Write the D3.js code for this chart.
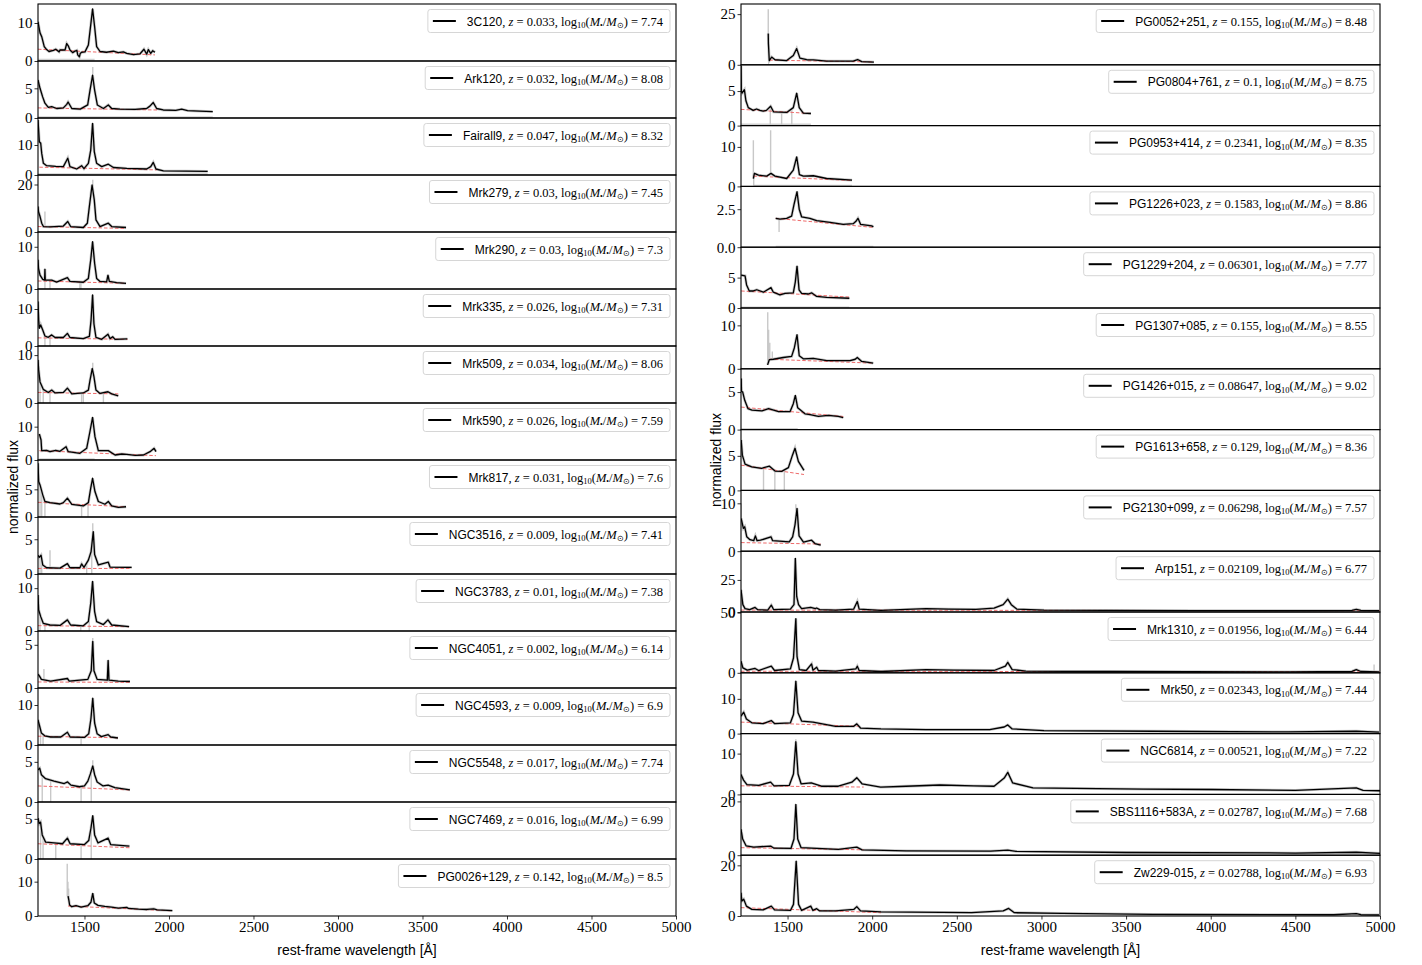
<!DOCTYPE html>
<html>
<head>
<meta charset="utf-8">
<script src="https://cdn.jsdelivr.net/npm/d3@7"></script>
<style>
body { margin: 0; background: #fff; }
.axis text { font-family: 'Liberation Serif', serif; font-size: 15px; fill: #000; }
.axis path { display: none; }
.axis line { stroke: #000; stroke-width: 0.8; }
.title { font-family: 'Liberation Sans', sans-serif; font-size: 14px; fill: #000; }
</style>
</head>
<body>
<div id="vis"></div>
<script>
/* *************************** Data ***************************** */

// wavelength range shared by every panel
var xDomain = [1225, 5000];
var xTicks = [1500, 2000, 2500, 3000, 3500, 4000, 4500, 5000];

// left column
var leftNames = ['3C120', 'Ark120', 'Fairall9', 'Mrk279', 'Mrk290', 'Mrk335', 'Mrk509', 'Mrk590',
    'Mrk817', 'NGC3516', 'NGC3783', 'NGC4051', 'NGC4593', 'NGC5548', 'NGC7469', 'PG0026+129'];
var leftZ = ['0.033', '0.032', '0.047', '0.03', '0.03', '0.026', '0.034', '0.026',
    '0.031', '0.009', '0.01', '0.002', '0.009', '0.017', '0.016', '0.142'];
var leftMass = ['7.74', '8.08', '8.32', '7.45', '7.3', '7.31', '8.06', '7.59',
    '7.6', '7.41', '7.38', '6.14', '6.9', '7.74', '6.99', '8.5'];
var leftYMax = [15, 9.6, 19, 24, 13.5, 15.4, 11.9, 17.1, 10.3, 8.2, 13.3, 6.6, 14.25, 7.1, 7.1, 16.6];
var leftYTicks = [[0, 10], [0, 5], [0, 10], [0, 20], [0, 10], [0, 10], [0, 10], [0, 10],
    [0, 5], [0, 5], [0, 10], [0, 5], [0, 10], [0, 5], [0, 5], [0, 10]];

// smoothed spectra, [wavelength, flux]
var leftSpectra = [
    [[1225, 10.3], [1237, 7.4], [1247, 6.4], [1262, 3.8], [1276, 3.0], [1290, 2.5], [1316, 2.8], [1330, 3.1], [1350, 2.4], [1355, 2.9], [1385, 2.9], [1395, 4.6], [1404, 4.0], [1414, 2.9], [1430, 2.2], [1444, 2.6], [1455, 2.8], [1460, 1.6], [1470, 1.1], [1475, 2.0], [1483, 2.3], [1503, 2.4], [1523, 4.2], [1537, 9.5], [1548, 13.7], [1560, 9.0], [1572, 3.8], [1592, 2.5], [1630, 2.3], [1671, 2.6], [1700, 2.2], [1730, 2.4], [1750, 2.0], [1790, 1.7], [1829, 1.9], [1852, 3.1], [1868, 1.8], [1878, 3.0], [1892, 2.0], [1904, 2.7], [1917, 2.3]],
    [[1225, 6.4], [1237, 5.0], [1252, 3.6], [1266, 2.5], [1286, 1.8], [1306, 1.9], [1336, 1.6], [1375, 1.7], [1395, 2.3], [1403, 2.7], [1425, 1.6], [1475, 1.5], [1519, 2.2], [1533, 4.7], [1548, 7.2], [1560, 4.7], [1576, 2.2], [1612, 1.6], [1641, 2.2], [1661, 1.6], [1710, 1.5], [1800, 1.45], [1868, 1.6], [1887, 2.0], [1907, 2.6], [1927, 1.6], [1966, 1.35], [2040, 1.3], [2075, 1.5], [2110, 1.25], [2180, 1.15], [2259, 1.06]],
    [[1225, 18.3], [1233, 11.1], [1241, 10.6], [1247, 7.2], [1257, 3.9], [1276, 3.1], [1330, 2.9], [1375, 2.8], [1401, 5.6], [1414, 2.8], [1454, 2.0], [1483, 3.1], [1497, 2.1], [1523, 3.9], [1537, 8.3], [1548, 17.2], [1558, 7.8], [1572, 3.9], [1602, 2.8], [1641, 3.6], [1671, 2.5], [1750, 2.2], [1868, 2.0], [1892, 2.8], [1907, 4.2], [1923, 2.0], [1967, 1.4], [2100, 1.3], [2229, 1.2]],
    [[1225, 10.7], [1228, 8.6], [1237, 6.5], [1247, 3.7], [1257, 2.3], [1296, 2.2], [1375, 2.5], [1401, 4.4], [1418, 2.3], [1493, 1.9], [1517, 3.7], [1529, 10.8], [1545, 19.8], [1558, 13.5], [1568, 5.1], [1592, 2.3], [1641, 3.7], [1661, 2.3], [1746, 1.9]],
    [[1225, 6.9], [1228, 4.9], [1237, 3.3], [1253, 2.3], [1264, 2.1], [1266, 4.7], [1268, 2.1], [1296, 2.1], [1306, 2.1], [1335, 1.65], [1399, 2.7], [1414, 1.8], [1493, 1.6], [1523, 2.5], [1537, 6.9], [1548, 11.2], [1560, 6.1], [1572, 2.5], [1592, 1.8], [1631, 1.7], [1639, 3.3], [1647, 1.8], [1690, 1.5], [1746, 1.35]],
    [[1225, 12], [1229, 7.0], [1233, 4.8], [1241, 5.7], [1253, 4.3], [1266, 2.7], [1286, 2.35], [1306, 3.0], [1326, 2.3], [1375, 2.3], [1399, 3.4], [1414, 2.3], [1493, 2.0], [1529, 2.6], [1539, 7.0], [1548, 13.8], [1556, 6.0], [1568, 2.3], [1602, 1.8], [1639, 3.2], [1651, 2.0], [1667, 2.5], [1681, 1.8], [1754, 1.9]],
    [[1225, 9.0], [1229, 6.9], [1237, 4.4], [1256, 2.85], [1286, 2.2], [1306, 2.7], [1326, 2.1], [1375, 2.2], [1399, 3.1], [1425, 1.9], [1493, 2.1], [1523, 2.7], [1533, 4.8], [1546, 7.2], [1556, 5.5], [1568, 2.7], [1592, 2.0], [1639, 2.35], [1661, 1.9], [1700, 1.5]],
    [[1233, 7.8], [1243, 6.0], [1247, 2.8], [1276, 2.9], [1296, 2.5], [1330, 2.9], [1355, 2.6], [1391, 4.0], [1404, 2.5], [1434, 2.3], [1473, 2.0], [1513, 3.5], [1533, 8.7], [1548, 12.8], [1562, 7.0], [1582, 2.8], [1641, 2.8], [1681, 1.5], [1720, 1.8], [1750, 1.7], [1800, 1.4], [1849, 1.5], [1888, 2.5], [1912, 3.5], [1923, 2.5]],
    [[1225, 9.7], [1229, 6.4], [1237, 5.8], [1253, 4.0], [1266, 2.8], [1296, 2.6], [1355, 2.35], [1375, 2.6], [1399, 3.4], [1425, 2.3], [1493, 2.0], [1523, 2.6], [1537, 5.2], [1548, 7.0], [1562, 4.6], [1582, 2.8], [1621, 2.3], [1641, 2.8], [1661, 2.0], [1700, 1.75], [1746, 1.85]],
    [[1225, 2.7], [1233, 2.4], [1243, 2.7], [1253, 1.3], [1276, 0.9], [1355, 0.85], [1399, 1.5], [1414, 0.9], [1473, 0.9], [1483, 1.45], [1497, 0.95], [1523, 2.0], [1539, 3.2], [1552, 6.1], [1560, 2.8], [1582, 1.3], [1641, 1.7], [1651, 1.0], [1750, 0.95], [1779, 0.95]],
    [[1225, 8.4], [1229, 4.9], [1241, 3.35], [1256, 1.8], [1296, 1.4], [1355, 1.3], [1399, 2.6], [1418, 1.4], [1493, 1.2], [1523, 2.2], [1537, 6.5], [1548, 11.6], [1560, 4.5], [1572, 2.2], [1612, 1.5], [1639, 2.6], [1661, 1.4], [1764, 1.0]],
    [[1225, 1.6], [1233, 1.4], [1245, 1.0], [1300, 0.8], [1399, 1.1], [1410, 0.8], [1520, 1.0], [1540, 2.0], [1549, 5.4], [1556, 2.0], [1575, 1.0], [1635, 0.9], [1640, 3.2], [1645, 0.9], [1700, 0.8], [1769, 0.75]],
    [[1225, 6.3], [1233, 5.0], [1245, 3.0], [1265, 2.3], [1300, 2.0], [1360, 2.0], [1399, 3.2], [1415, 2.0], [1500, 1.9], [1525, 2.8], [1538, 6.5], [1549, 11.7], [1560, 5.5], [1575, 2.8], [1600, 2.1], [1640, 2.6], [1655, 2.0], [1698, 1.75]],
    [[1225, 4.0], [1235, 4.2], [1245, 3.4], [1270, 2.9], [1320, 2.6], [1380, 2.3], [1400, 2.5], [1420, 2.1], [1470, 1.9], [1500, 2.0], [1520, 2.6], [1535, 3.5], [1549, 4.5], [1560, 3.4], [1575, 2.5], [1610, 2.0], [1640, 2.1], [1680, 1.8], [1769, 1.5]],
    [[1225, 5.1], [1232, 4.4], [1240, 4.6], [1250, 3.0], [1270, 2.1], [1320, 2.0], [1370, 1.9], [1399, 2.6], [1415, 1.9], [1500, 1.8], [1525, 2.3], [1538, 3.8], [1549, 5.4], [1560, 3.0], [1580, 2.0], [1640, 2.6], [1655, 1.8], [1766, 1.6]],
    [[1403, 5.8], [1408, 4.5], [1412, 3.2], [1425, 2.7], [1450, 3.0], [1480, 2.6], [1520, 3.0], [1538, 4.0], [1549, 6.6], [1558, 3.8], [1580, 3.1], [1620, 2.8], [1660, 2.6], [1700, 2.3], [1750, 2.5], [1760, 2.2], [1820, 2.0], [1870, 1.9], [1910, 2.1], [1930, 1.8], [2020, 1.55]]
];

// continuum fits, two end points each
var leftContinua = [
    [[1225, 3.1], [1917, 1.6]], [[1225, 1.7], [1930, 1.35]], [[1233, 2.6], [1927, 1.7]], [[1225, 2.3], [1746, 1.5]],
    [[1225, 1.9], [1746, 1.35]], [[1225, 2.2], [1754, 1.8]], [[1225, 2.2], [1700, 1.9]], [[1233, 2.8], [1923, 1.3]],
    [[1225, 2.65], [1746, 1.85]], [[1225, 0.8], [1779, 0.8]], [[1225, 1.25], [1764, 1.0]], [[1225, 0.7], [1769, 0.65]],
    [[1225, 2.2], [1698, 1.8]], [[1225, 2.0], [1769, 1.5]], [[1225, 1.9], [1766, 1.4]], [[1403, 2.9], [2020, 1.5]]
];

// raw-flux spikes that stand out from the smoothed line, [wavelength, flux]
var leftSpikes = [
    [], [[1549, 8.6]], [], [[1225, 11], [1266, 8.6], [1549, 22]],
    [[1266, 0], [1296, 0], [1473, 0], [1479, 0]], [[1266, 0], [1296, 0]], [[1237, 0], [1256, 0], [1296, 0], [1483, 0], [1493, 0], [1549, 8.4], [1612, 0]], [],
    [[1237, 0], [1247, 0], [1266, 0], [1483, 0], [1521, 0]], [[1237, 0], [1247, 0], [1296, 3.4], [1513, 0], [1543, 0], [1549, 7.3]], [[1237, 0], [1266, 0], [1478, 0], [1528, 0]], [[1260, 2.2], [1549, 5.8]],
    [[1240, 0], [1255, 0], [1480, 0]], [[1250, 0], [1300, 0], [1480, 0], [1540, 0], [1549, 5.2]], [[1240, 0], [1255, 0], [1330, 0], [1480, 0], [1540, 0]], [[1398, 15.2], [1402, 10], [1406, 8]]
];

// faint grey second spectrum lying near zero, [start, end, flux] or null
var leftFloor = [
    [1225, 1560, 0.35], [1225, 2259, 0.15], [1225, 2229, 0.3], null,
    null, null, null, [1233, 1560, 0.3],
    null, null, null, null,
    null, null, null, null
];

// right column
var rightNames = ['PG0052+251', 'PG0804+761', 'PG0953+414', 'PG1226+023', 'PG1229+204', 'PG1307+085', 'PG1426+015', 'PG1613+658',
    'PG2130+099', 'Arp151', 'Mrk1310', 'Mrk50', 'NGC6814', 'SBS1116+583A', 'Zw229-015'];
var rightZ = ['0.155', '0.1', '0.2341', '0.1583', '0.06301', '0.155', '0.08647', '0.129',
    '0.06298', '0.02109', '0.01956', '0.02343', '0.00521', '0.02787', '0.02788'];
var rightMass = ['8.48', '8.75', '8.35', '8.86', '7.77', '8.55', '9.02', '8.36',
    '7.57', '6.77', '6.44', '7.44', '7.22', '7.68', '6.93'];
var rightYMax = [30, 8.8, 15.4, 4.0, 10, 14, 8.1, 8.8, 12.7, 47.4, 50.5, 17.5, 14.9, 22.6, 24];
var rightYTicks = [[0, 25], [0, 5], [0, 10], [0, 2.5], [0, 5], [0, 10], [0, 5], [0, 5],
    [0, 10], [0, 25], [0, 50], [0, 10], [0, 10], [0, 20], [0, 20]];

var rightSpectra = [
    [[1386, 15.4], [1387, 10.4], [1392, 2.1], [1406, 3.8], [1426, 2.5], [1495, 2.1], [1534, 4.6], [1554, 8.0], [1573, 3.3], [1613, 2.5], [1652, 2.4], [1731, 1.8], [1888, 1.8], [1914, 2.6], [1938, 1.6], [2010, 1.3]],
    [[1225, 8.7], [1227, 5.0], [1231, 4.7], [1245, 5.2], [1254, 3.6], [1268, 2.6], [1297, 2.2], [1317, 2.4], [1337, 2.2], [1356, 2.1], [1375, 2.2], [1400, 2.8], [1417, 2.0], [1495, 1.9], [1534, 2.6], [1554, 4.7], [1569, 2.6], [1593, 1.8], [1638, 1.75]],
    [[1298, 2.0], [1304, 3.3], [1328, 2.85], [1377, 2.6], [1402, 3.3], [1426, 2.6], [1495, 2.0], [1534, 4.1], [1554, 7.5], [1570, 3.0], [1593, 2.6], [1652, 2.7], [1731, 2.0], [1881, 1.6]],
    [[1430, 1.9], [1455, 1.85], [1495, 1.9], [1524, 2.05], [1538, 2.8], [1556, 3.65], [1569, 2.5], [1583, 2.0], [1632, 1.9], [1672, 1.75], [1751, 1.63], [1829, 1.5], [1888, 1.55], [1904, 1.7], [1916, 1.9], [1932, 1.5], [1997, 1.4], [2007, 1.34]],
    [[1226, 5.4], [1249, 5.3], [1258, 3.8], [1274, 2.8], [1298, 2.8], [1318, 3.0], [1357, 2.6], [1402, 3.35], [1416, 2.6], [1455, 2.15], [1485, 2.4], [1534, 2.5], [1546, 4.3], [1556, 6.9], [1568, 3.0], [1583, 2.4], [1623, 2.3], [1642, 2.5], [1672, 1.9], [1731, 1.75], [1865, 1.6]],
    [[1382, 0.9], [1392, 2.1], [1416, 2.2], [1475, 2.6], [1524, 2.85], [1540, 4.8], [1556, 7.85], [1569, 3.0], [1593, 2.3], [1652, 2.4], [1731, 1.9], [1869, 1.9], [1900, 2.2], [1912, 2.6], [1938, 1.7], [2006, 1.3]],
    [[1226, 6.8], [1228, 5.1], [1235, 5.0], [1247, 3.9], [1266, 2.8], [1290, 2.6], [1349, 2.5], [1388, 2.8], [1447, 2.4], [1515, 2.4], [1534, 3.45], [1546, 4.55], [1560, 2.9], [1603, 2.1], [1633, 2.0], [1682, 1.77], [1741, 1.9], [1800, 1.75], [1829, 1.6]],
    [[1226, 7.3], [1233, 5.1], [1249, 3.8], [1288, 3.4], [1347, 3.2], [1393, 3.5], [1426, 2.8], [1465, 2.75], [1505, 3.3], [1529, 5.1], [1544, 6.1], [1564, 4.2], [1597, 2.9]],
    [[1226, 6.85], [1239, 4.75], [1247, 5.1], [1259, 3.0], [1278, 2.4], [1300, 2.2], [1310, 3.2], [1320, 2.2], [1340, 2.3], [1402, 3.0], [1412, 2.2], [1510, 1.95], [1530, 3.0], [1544, 5.5], [1556, 8.95], [1568, 3.2], [1594, 1.9], [1642, 2.3], [1662, 1.6], [1696, 1.25]],
    [[1225, 17.3], [1236, 5.7], [1249, 2.6], [1276, 1.8], [1308, 3.6], [1324, 1.8], [1383, 1.5], [1404, 5.4], [1418, 1.8], [1517, 2.3], [1538, 5.7], [1546, 41.8], [1554, 12.1], [1565, 5.7], [1583, 2.6], [1637, 3.6], [1664, 2.6], [1672, 3.1], [1690, 1.8], [1784, 1.5], [1891, 2.3], [1912, 8.2], [1923, 2.3], [2052, 1.3], [2319, 2.6], [2453, 2.3], [2613, 2.0], [2720, 3.1], [2774, 5.7], [2801, 10], [2822, 5.7], [2854, 2.3], [3015, 1.5], [3389, 1.3], [3924, 1.0], [4459, 1.0], [4834, 1.3], [4860, 2.1], [4887, 1.3], [4994, 1.0]],
    [[1225, 9.6], [1236, 4.1], [1262, 2.2], [1308, 3.6], [1329, 1.9], [1404, 5.5], [1423, 1.9], [1517, 3.3], [1535, 12.3], [1549, 45], [1556, 13.7], [1570, 2.7], [1610, 1.9], [1642, 7.4], [1650, 2.2], [1672, 4.6], [1682, 1.9], [1784, 1.4], [1904, 3.3], [1912, 5.5], [1923, 1.9], [2052, 1.1], [2319, 2.7], [2480, 2.2], [2720, 1.9], [2787, 5.5], [2801, 8.7], [2827, 2.7], [2908, 1.4], [3389, 1.1], [4459, 0.8], [4834, 1.2], [4860, 2.7], [4887, 1.1], [4994, 0.8]],
    [[1225, 5.0], [1241, 6.15], [1257, 4.2], [1289, 3.1], [1356, 2.9], [1404, 3.75], [1423, 2.9], [1517, 3.1], [1535, 5.5], [1549, 15.1], [1562, 6.0], [1583, 3.6], [1650, 3.3], [1784, 2.1], [1891, 2.1], [1909, 2.8], [1931, 1.6], [2052, 1.35], [2319, 1.15], [2694, 1.15], [2780, 1.9], [2801, 2.5], [2827, 1.35], [3015, 0.87], [3657, 0.67], [4459, 0.5], [4860, 0.67], [4994, 0.4]],
    [[1225, 4.9], [1240, 3.5], [1260, 2.4], [1330, 2.2], [1400, 3.0], [1420, 2.1], [1510, 2.2], [1535, 5], [1549, 12.9], [1562, 5], [1580, 2.6], [1640, 2.8], [1700, 2.0], [1800, 2.0], [1880, 3.0], [1909, 4.1], [1940, 2.6], [2050, 1.8], [2200, 2.0], [2400, 2.3], [2600, 2.1], [2720, 2.0], [2780, 4.0], [2801, 5.4], [2830, 2.8], [2950, 1.6], [3200, 1.5], [3600, 1.3], [4000, 1.2], [4500, 1.0], [4860, 1.6], [4900, 1.0], [5000, 0.9]],
    [[1225, 9.6], [1235, 6.0], [1255, 3.5], [1300, 3.0], [1400, 3.4], [1420, 2.6], [1520, 2.5], [1538, 6.0], [1549, 18.9], [1560, 6.0], [1580, 2.8], [1640, 2.6], [1800, 2.2], [1909, 3.0], [1940, 2.0], [2200, 1.6], [2700, 1.5], [2801, 1.9], [2850, 1.4], [3500, 1.0], [4500, 0.8], [4860, 1.1], [5000, 0.7]],
    [[1225, 9.2], [1230, 5.9], [1241, 6.6], [1257, 3.9], [1289, 2.6], [1356, 2.4], [1404, 3.9], [1423, 2.4], [1517, 2.2], [1535, 4.6], [1551, 21.7], [1565, 4.6], [1583, 2.2], [1637, 3.9], [1650, 2.2], [1672, 2.9], [1690, 2.0], [1784, 2.0], [1891, 2.6], [1909, 3.7], [1931, 2.0], [2052, 1.6], [2587, 1.3], [2774, 2.0], [2806, 3.0], [2840, 1.3], [3122, 1.05], [3657, 0.65], [4727, 0.5], [4860, 0.9], [4887, 0.5], [4994, 0.4]]
];

var rightContinua = [
    [[1392, 2.3], [2010, 1.4]], [[1225, 2.35], [1638, 1.75]], [[1298, 2.6], [1881, 1.5]], [[1430, 1.9], [2007, 1.3]],
    [[1226, 2.8], [1865, 1.8]], [[1392, 2.2], [2006, 1.3]], [[1226, 3.0], [1829, 1.75]], [[1226, 3.65], [1597, 2.3]],
    [[1226, 1.8], [1696, 1.5]], [[1225, 1.5], [5000, 1.0]], [[1225, 1.3], [5000, 0.8]], [[1225, 3.3], [1920, 2.1]],
    [[1225, 2.1], [1950, 1.8]], [[1225, 2.8], [1950, 2.0]], [[1225, 3.3], [2052, 1.3]]
];

var rightSpikes = [
    [[1386, 27.4], [1390, 5], [1400, 4]], [[1398, 0], [1465, 0], [1525, 0]], [[1298, 11.7], [1300, 0.3], [1400, 14.2]], [[1450, 1.0]],
    [], [[1383, 13.0], [1388, 9], [1395, 6], [1410, 4]], [], [[1358, 0], [1425, 0], [1481, 0]],
    [[1226, 10], [1549, 9.8]], [], [[4965, 6.8]], [],
    [[1549, 13.5]], [], []
];

var rightFloor = [
    null, [1225, 1638, 0.2], [1298, 1881, 0.2], [1430, 2007, 0.05],
    [1226, 1865, 0.1], null, [1226, 1560, 0.1], null,
    null, null, null, null,
    null, null, null
];

/* *************************** Settings ***************************** */

var width = 1422;
var height = 965;

// the two columns of stacked panels
var leftCol = { x0: 38, x1: 676, top: 4, bottom: 916, labelY: 487 };
var rightCol = { x0: 741, x1: 1380, top: 4, bottom: 916, labelY: 460 };

var svg = d3.select('#vis')
    .append('svg')
    .attr('width', width)
    .attr('height', height)
    .style('font-family', 'Liberation Serif');

// linear interpolation of a spectrum at a wavelength
var fluxAt = function(spec, w) {
    var i = d3.bisector(function(d) { return d[0]; }).left(spec, w);
    if (i <= 0) return spec[0][1];
    if (i >= spec.length) return spec[spec.length - 1][1];
    var a = spec[i - 1], b = spec[i];
    return a[1] + (b[1] - a[1]) * (w - a[0]) / (b[0] - a[0]);
};

var clipId = 0;

/* *************************** Legend ***************************** */

var drawLegend = function(g, col, top, name, z, mass) {
    var leg = g.append('g');
    var box = leg.append('rect')
        .attr('rx', 2.5)
        .attr('fill', 'white')
        .attr('fill-opacity', 0.8)
        .attr('stroke', '#d6d6d6')
        .attr('stroke-width', 1);

    var text = leg.append('text')
        .attr('y', 16)
        .style('font-size', '12.5px')
        .style('font-family', 'Liberation Serif');
    text.append('tspan').style('font-family', 'Liberation Sans').style('font-size', '12px').text(name);
    text.append('tspan').text(', ');
    text.append('tspan').style('font-style', 'italic').text('z');
    text.append('tspan').text(' = ' + z + ', log');
    text.append('tspan').attr('dy', 2.5).style('font-size', '8.5px').text('10');
    text.append('tspan').attr('dy', -2.5).text('(');
    text.append('tspan').style('font-style', 'italic').text('M');
    text.append('tspan').attr('dy', 2.5).style('font-size', '7.5px').text('\u2022');
    text.append('tspan').attr('dy', -2.5).text('/');
    text.append('tspan').style('font-style', 'italic').text('M');
    text.append('tspan').attr('dy', 2.5).style('font-size', '7.5px').text('\u2299');
    text.append('tspan').attr('dy', -2.5).text(') = ' + mass);

    var tw = text.node().getComputedTextLength();
    var padL = 5, handle = 23, gap = 11, padR = 7;
    var bw = padL + handle + gap + tw + padR;
    var bh = 23;
    box.attr('width', bw).attr('height', bh);
    leg.append('line')
        .attr('x1', padL).attr('x2', padL + handle)
        .attr('y1', 11.5).attr('y2', 11.5)
        .attr('stroke', 'black')
        .attr('stroke-width', 2);
    text.attr('x', padL + handle + gap);
    leg.attr('transform', 'translate(' + (col.x1 - 6 - bw) + ',' + (top + 5.5) + ')');
};

/* *************************** Draw a column ***************************** */

var drawColumn = function(col, names, zs, masses, ymaxes, yticks, spectra, continua, spikes, floors) {
    var n = names.length;
    var ph = (col.bottom - col.top) / n;
    var xScale = d3.scaleLinear().domain(xDomain).range([col.x0, col.x1]);

    names.forEach(function(name, i) {
        var top = col.top + i * ph;
        var bottom = top + ph;
        var yScale = d3.scaleLinear().domain([0, ymaxes[i]]).range([bottom, top]);
        var g = svg.append('g');

        var cid = 'clip' + (clipId++);
        g.append('clipPath').attr('id', cid)
            .append('rect')
            .attr('x', col.x0).attr('y', top)
            .attr('width', col.x1 - col.x0).attr('height', ph);

        var plot = g.append('g').attr('clip-path', 'url(#' + cid + ')');
        var line = d3.line()
            .x(function(d) { return xScale(d[0]); })
            .y(function(d) { return yScale(d[1]); });

        // faint grey spectrum near zero
        if (floors[i]) {
            var f = floors[i];
            plot.append('path')
                .datum([[f[0], f[2]], [f[1], f[2]]])
                .attr('d', line)
                .attr('fill', 'none')
                .attr('stroke', '#d0d0d0')
                .attr('stroke-width', 1.6);
        }

        // raw flux in grey: halo under the smoothed line plus spikes
        plot.append('path')
            .datum(spectra[i])
            .attr('d', line)
            .attr('fill', 'none')
            .attr('stroke', '#c8c8c8')
            .attr('stroke-width', 2.8);
        plot.selectAll('.spike')
            .data(spikes[i])
            .enter().append('line')
            .attr('x1', function(d) { return xScale(d[0]); })
            .attr('x2', function(d) { return xScale(d[0]); })
            .attr('y1', function(d) { return yScale(fluxAt(spectra[i], d[0])); })
            .attr('y2', function(d) { return yScale(d[1]); })
            .attr('stroke', '#c8c8c8')
            .attr('stroke-width', 1.4);

        // continuum
        plot.append('path')
            .datum(continua[i])
            .attr('d', line)
            .attr('fill', 'none')
            .attr('stroke', '#ee6a6a')
            .attr('stroke-width', 1)
            .attr('stroke-dasharray', '3.5,2');

        // smoothed spectrum
        plot.append('path')
            .datum(spectra[i])
            .attr('d', line)
            .attr('fill', 'none')
            .attr('stroke', 'black')
            .attr('stroke-width', 1.3)
            .attr('stroke-linejoin', 'round');

        // y axis
        var fmt = yticks[i].some(function(t) { return t % 1 !== 0; }) ? d3.format('.1f') : d3.format('d');
        g.append('g')
            .attr('class', 'axis')
            .attr('transform', 'translate(' + col.x0 + ',0)')
            .call(d3.axisLeft(yScale).tickValues(yticks[i]).tickSize(3.5).tickPadding(2).tickFormat(fmt));

        // frame
        g.append('rect')
            .attr('x', col.x0).attr('y', top)
            .attr('width', col.x1 - col.x0).attr('height', ph)
            .attr('fill', 'none')
            .attr('stroke', 'black')
            .attr('stroke-width', 1.1);

        drawLegend(g, col, top, name, zs[i], masses[i]);
    });

    // shared x axis on the bottom panel
    svg.append('g')
        .attr('class', 'axis')
        .attr('transform', 'translate(0,' + col.bottom + ')')
        .call(d3.axisBottom(xScale).tickValues(xTicks).tickSize(3.5).tickPadding(2).tickFormat(d3.format('d')));

    svg.append('text')
        .attr('class', 'title')
        .attr('x', (col.x0 + col.x1) / 2)
        .attr('y', 955)
        .attr('text-anchor', 'middle')
        .text('rest-frame wavelength [\u00c5]');

    // y label sits on the middle panel
    svg.append('text')
        .attr('class', 'title')
        .attr('transform', 'translate(' + (col.x0 - 20) + ',' + col.labelY + ') rotate(-90)')
        .attr('text-anchor', 'middle')
        .text('normalized flux');
};

drawColumn(leftCol, leftNames, leftZ, leftMass, leftYMax, leftYTicks, leftSpectra, leftContinua, leftSpikes, leftFloor);
drawColumn(rightCol, rightNames, rightZ, rightMass, rightYMax, rightYTicks, rightSpectra, rightContinua, rightSpikes, rightFloor);
</script>
</body>
</html>
